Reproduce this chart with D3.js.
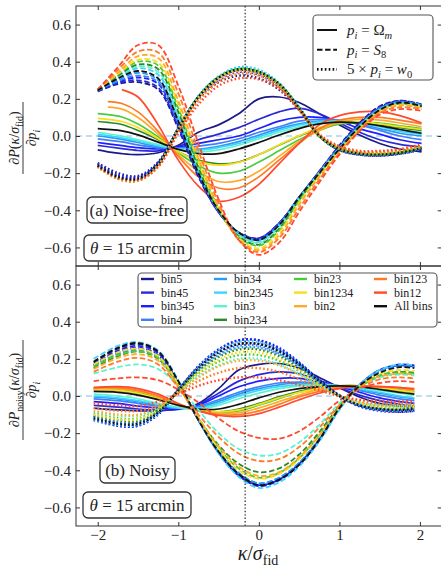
<!DOCTYPE html>
<html><head><meta charset="utf-8">
<script src="https://cdn.jsdelivr.net/npm/d3@7"></script>
<style>
body{margin:0;background:#fff}
svg{display:block}
text{font-family:"Liberation Serif","DejaVu Serif",serif;fill:#222}
</style>
</head><body>
<svg id="c" width="441" height="568"></svg>
<script>
// ---------------- data ----------------
const bins = ["bin5","bin45","bin345","bin4","bin34","bin2345","bin3","bin234","bin23","bin1234","bin2","bin123","bin12","All bins"];
const binColors = ["#1a1a8a","#2b2bd6","#1e1eff","#3f7fff","#2a9bf0","#3fd4ff","#5cf2cf","#2a8a2a","#4ccc3c","#f8de20","#ffaa2a","#ff7a26","#ff4a2e","#111111"];

const kTopSolid = [-2.0,-1.875,-1.7,-1.5,-1.25,-1.0,-0.75,-0.5,-0.25,0,0.25,0.5,0.75,1.0,1.25,1.5,1.75,2.02];
const kTop = [-2.0,-1.75,-1.5,-1.25,-1.0,-0.75,-0.5,-0.25,0,0.25,0.5,0.75,1.0,1.25,1.5,1.75,2.02];
const kBot = [-2.05,-1.75,-1.5,-1.25,-1.0,-0.75,-0.5,-0.25,0,0.25,0.5,0.75,1.0,1.25,1.5,1.75,1.93];

// (a) noise-free, p = Omega_m (solid)
const topOm = [
 [-0.075,-0.085,-0.095,-0.10,-0.09,-0.05,0.02,0.06,0.12,0.20,0.21,0.18,0.12,0.06,0.005,-0.04,-0.07,-0.085],
 [-0.05,-0.058,-0.068,-0.078,-0.08,-0.055,-0.02,0.01,0.045,0.09,0.13,0.15,0.12,0.07,0.02,-0.02,-0.045,-0.06],
 [-0.035,-0.042,-0.052,-0.063,-0.07,-0.06,-0.04,-0.02,0.0,0.04,0.08,0.10,0.10,0.08,0.04,0.01,-0.02,-0.04],
 [-0.015,-0.022,-0.032,-0.048,-0.063,-0.065,-0.055,-0.04,-0.015,0.02,0.05,0.08,0.09,0.085,0.06,0.03,0.0,-0.02],
 [0.0,-0.006,-0.018,-0.035,-0.058,-0.07,-0.07,-0.055,-0.03,0.005,0.04,0.065,0.08,0.08,0.065,0.04,0.015,0.0],
 [0.008,0.002,-0.01,-0.027,-0.052,-0.07,-0.075,-0.062,-0.04,-0.005,0.03,0.06,0.075,0.08,0.07,0.05,0.025,0.01],
 [0.018,0.012,0.0,-0.02,-0.046,-0.07,-0.085,-0.075,-0.05,-0.015,0.02,0.05,0.07,0.08,0.075,0.055,0.035,0.02],
 [0.078,0.073,0.062,0.03,-0.02,-0.085,-0.13,-0.15,-0.14,-0.10,-0.05,0.0,0.04,0.065,0.07,0.06,0.045,0.03],
 [0.12,0.115,0.102,0.065,-0.005,-0.09,-0.16,-0.20,-0.19,-0.14,-0.08,-0.02,0.03,0.065,0.075,0.07,0.055,0.04],
 [0.095,0.09,0.078,0.045,-0.015,-0.085,-0.135,-0.157,-0.142,-0.10,-0.048,0.002,0.045,0.07,0.075,0.065,0.05,0.035],
 [null,0.155,0.145,0.10,0.01,-0.10,-0.19,-0.245,-0.24,-0.19,-0.11,-0.03,0.03,0.075,0.09,0.085,0.07,0.05],
 [null,0.185,0.175,0.13,0.025,-0.11,-0.22,-0.28,-0.28,-0.22,-0.13,-0.04,0.04,0.085,0.10,0.10,0.085,0.065],
 [null,null,0.25,0.21,0.06,-0.13,-0.27,-0.35,-0.33,-0.26,-0.15,-0.04,0.06,0.11,0.13,0.13,0.11,0.07],
 [0.04,0.036,0.028,0.006,-0.033,-0.072,-0.095,-0.095,-0.07,-0.035,0.005,0.04,0.065,0.075,0.07,0.055,0.035,0.015]
];
// (a) noise-free, p = S8 (dashed)
const topS8 = [
 [0.24,0.28,0.29,0.25,0.04,-0.22,-0.41,-0.52,-0.55,-0.47,-0.33,-0.19,-0.05,0.07,0.16,0.19,0.17],
 [0.24,0.285,0.30,0.26,0.05,-0.21,-0.41,-0.52,-0.55,-0.47,-0.33,-0.19,-0.055,0.065,0.155,0.19,0.17],
 [0.245,0.29,0.315,0.28,0.06,-0.21,-0.41,-0.52,-0.555,-0.47,-0.33,-0.195,-0.06,0.06,0.15,0.185,0.165],
 [0.245,0.295,0.325,0.29,0.07,-0.20,-0.405,-0.52,-0.56,-0.475,-0.33,-0.195,-0.06,0.06,0.15,0.185,0.165],
 [0.245,0.30,0.34,0.30,0.08,-0.20,-0.40,-0.52,-0.56,-0.48,-0.33,-0.20,-0.065,0.055,0.145,0.18,0.165],
 [0.245,0.315,0.365,0.33,0.10,-0.19,-0.40,-0.53,-0.57,-0.48,-0.335,-0.20,-0.065,0.055,0.145,0.18,0.165],
 [0.245,0.32,0.375,0.345,0.11,-0.18,-0.40,-0.53,-0.575,-0.49,-0.34,-0.20,-0.07,0.05,0.14,0.175,0.16],
 [0.25,0.325,0.385,0.36,0.13,-0.17,-0.40,-0.54,-0.585,-0.50,-0.345,-0.205,-0.07,0.05,0.14,0.175,0.16],
 [0.25,0.33,0.40,0.38,0.15,-0.15,-0.39,-0.545,-0.59,-0.51,-0.35,-0.21,-0.075,0.045,0.135,0.17,0.155],
 [0.25,0.335,0.41,0.395,0.17,-0.14,-0.39,-0.55,-0.605,-0.52,-0.36,-0.215,-0.08,0.04,0.135,0.17,0.155],
 [0.25,0.34,0.43,0.42,0.19,-0.12,-0.38,-0.555,-0.615,-0.535,-0.37,-0.22,-0.085,0.035,0.13,0.165,0.15],
 [0.25,0.355,0.455,0.45,0.23,-0.08,-0.36,-0.56,-0.625,-0.55,-0.39,-0.235,-0.09,0.03,0.125,0.155,0.145],
 [0.25,0.37,0.49,0.49,0.27,-0.04,-0.34,-0.56,-0.64,-0.575,-0.41,-0.25,-0.10,0.025,0.115,0.145,0.135],
 [0.245,0.31,0.35,0.31,0.08,-0.20,-0.40,-0.52,-0.56,-0.48,-0.33,-0.20,-0.07,0.05,0.14,0.18,0.16]
];
// (a) noise-free, 5 x p = w0 (dotted)
const topW0 = [
 [-0.145,-0.20,-0.215,-0.14,0.04,0.20,0.29,0.325,0.31,0.25,0.14,0.0,-0.075,-0.10,-0.105,-0.095,-0.075],
 [-0.15,-0.21,-0.22,-0.145,0.04,0.205,0.30,0.345,0.33,0.265,0.145,0.0,-0.075,-0.10,-0.105,-0.095,-0.07],
 [-0.155,-0.215,-0.225,-0.15,0.04,0.21,0.31,0.355,0.34,0.275,0.15,0.0,-0.075,-0.10,-0.105,-0.095,-0.07],
 [-0.16,-0.22,-0.23,-0.15,0.04,0.21,0.315,0.36,0.345,0.28,0.15,0.0,-0.07,-0.095,-0.10,-0.09,-0.07],
 [-0.16,-0.225,-0.235,-0.155,0.04,0.215,0.32,0.37,0.355,0.285,0.155,0.0,-0.07,-0.095,-0.10,-0.09,-0.065],
 [-0.165,-0.225,-0.235,-0.155,0.04,0.215,0.32,0.37,0.355,0.285,0.155,0.005,-0.07,-0.095,-0.10,-0.09,-0.065],
 [-0.165,-0.23,-0.24,-0.16,0.035,0.21,0.32,0.365,0.35,0.28,0.15,0.0,-0.07,-0.095,-0.10,-0.09,-0.065],
 [-0.165,-0.23,-0.24,-0.16,0.035,0.21,0.315,0.36,0.345,0.28,0.15,0.0,-0.07,-0.095,-0.10,-0.09,-0.065],
 [-0.165,-0.23,-0.24,-0.16,0.035,0.21,0.315,0.36,0.345,0.275,0.15,0.0,-0.07,-0.09,-0.095,-0.085,-0.06],
 [-0.165,-0.23,-0.24,-0.16,0.035,0.205,0.31,0.355,0.34,0.275,0.145,0.0,-0.065,-0.09,-0.095,-0.085,-0.06],
 [-0.165,-0.23,-0.24,-0.165,0.03,0.20,0.305,0.35,0.335,0.27,0.145,0.0,-0.065,-0.09,-0.09,-0.08,-0.055],
 [-0.165,-0.23,-0.24,-0.165,0.025,0.19,0.29,0.335,0.325,0.265,0.145,0.005,-0.06,-0.085,-0.085,-0.075,-0.05],
 [-0.16,-0.225,-0.235,-0.165,0.015,0.17,0.27,0.31,0.305,0.255,0.14,0.01,-0.055,-0.08,-0.08,-0.07,-0.045],
 [-0.16,-0.22,-0.23,-0.15,0.04,0.21,0.315,0.36,0.345,0.28,0.15,0.0,-0.07,-0.095,-0.10,-0.09,-0.065]
];
// (b) noisy, p = Omega_m (solid)
const botOm = [
 [-0.065,-0.075,-0.08,-0.08,-0.07,-0.04,0.04,0.14,0.17,0.175,0.15,0.10,0.045,-0.005,-0.04,-0.055,-0.06],
 [-0.05,-0.06,-0.07,-0.075,-0.072,-0.045,0.015,0.08,0.115,0.13,0.12,0.085,0.045,0.005,-0.025,-0.045,-0.055],
 [-0.03,-0.04,-0.055,-0.065,-0.07,-0.05,0.0,0.05,0.08,0.095,0.095,0.075,0.05,0.02,-0.01,-0.03,-0.04],
 [-0.015,-0.025,-0.04,-0.055,-0.065,-0.055,-0.02,0.02,0.05,0.07,0.075,0.07,0.055,0.03,0.005,-0.015,-0.025],
 [-0.005,-0.015,-0.03,-0.05,-0.065,-0.06,-0.03,0.01,0.04,0.06,0.07,0.065,0.055,0.035,0.015,-0.005,-0.015],
 [0.0,-0.01,-0.025,-0.045,-0.065,-0.065,-0.04,0.0,0.03,0.05,0.06,0.06,0.055,0.04,0.02,0.0,-0.01],
 [0.01,0.0,-0.015,-0.04,-0.06,-0.07,-0.05,-0.015,0.015,0.04,0.055,0.06,0.055,0.045,0.03,0.015,0.005],
 [0.035,0.03,0.015,-0.015,-0.05,-0.075,-0.085,-0.07,-0.04,-0.005,0.025,0.045,0.055,0.055,0.045,0.03,0.02],
 [0.04,0.035,0.02,-0.01,-0.05,-0.075,-0.09,-0.08,-0.05,-0.015,0.02,0.04,0.055,0.055,0.045,0.035,0.025],
 [0.035,0.03,0.015,-0.015,-0.05,-0.075,-0.085,-0.075,-0.045,-0.01,0.02,0.04,0.055,0.055,0.045,0.03,0.02],
 [0.04,0.04,0.025,-0.005,-0.05,-0.08,-0.095,-0.09,-0.065,-0.03,0.005,0.035,0.05,0.055,0.05,0.04,0.03],
 [0.045,0.045,0.03,0.0,-0.045,-0.08,-0.10,-0.10,-0.08,-0.045,-0.005,0.025,0.045,0.055,0.05,0.045,0.035],
 [0.045,0.05,0.04,0.01,-0.04,-0.08,-0.105,-0.11,-0.095,-0.06,-0.02,0.015,0.04,0.05,0.05,0.045,0.04],
 [0.025,0.02,0.005,-0.02,-0.05,-0.07,-0.07,-0.045,-0.01,0.02,0.04,0.05,0.055,0.05,0.035,0.02,0.01]
];
// (b) noisy, p = S8 (dashed)
const botS8 = [
 [0.18,0.255,0.28,0.235,0.075,-0.13,-0.30,-0.42,-0.48,-0.45,-0.37,-0.235,-0.065,0.06,0.135,0.165,0.16],
 [0.17,0.245,0.27,0.23,0.07,-0.13,-0.305,-0.43,-0.485,-0.455,-0.37,-0.24,-0.07,0.06,0.14,0.17,0.165],
 [0.165,0.235,0.26,0.22,0.065,-0.13,-0.30,-0.425,-0.48,-0.45,-0.365,-0.235,-0.065,0.06,0.14,0.165,0.16],
 [0.16,0.225,0.25,0.21,0.06,-0.13,-0.295,-0.415,-0.47,-0.44,-0.36,-0.23,-0.065,0.055,0.135,0.16,0.155],
 [0.165,0.23,0.255,0.215,0.065,-0.125,-0.295,-0.415,-0.47,-0.44,-0.36,-0.23,-0.065,0.055,0.135,0.16,0.155],
 [0.20,0.27,0.29,0.245,0.085,-0.13,-0.31,-0.435,-0.495,-0.465,-0.38,-0.245,-0.075,0.06,0.14,0.17,0.165],
 [0.12,0.155,0.17,0.145,0.055,-0.075,-0.20,-0.285,-0.32,-0.31,-0.25,-0.155,-0.04,0.05,0.10,0.115,0.11],
 [0.15,0.215,0.24,0.20,0.055,-0.12,-0.265,-0.365,-0.41,-0.39,-0.315,-0.195,-0.055,0.05,0.11,0.13,0.125],
 [0.16,0.22,0.24,0.205,0.06,-0.12,-0.28,-0.39,-0.44,-0.415,-0.335,-0.21,-0.06,0.05,0.11,0.125,0.12],
 [0.17,0.235,0.255,0.215,0.065,-0.12,-0.285,-0.40,-0.445,-0.42,-0.34,-0.215,-0.065,0.055,0.12,0.14,0.135],
 [0.145,0.205,0.225,0.19,0.05,-0.12,-0.27,-0.38,-0.43,-0.41,-0.33,-0.21,-0.06,0.05,0.105,0.12,0.115],
 [0.13,0.185,0.205,0.17,0.045,-0.10,-0.22,-0.31,-0.35,-0.34,-0.275,-0.17,-0.05,0.04,0.09,0.10,0.095],
 [0.08,0.095,0.10,0.085,0.035,-0.035,-0.12,-0.19,-0.225,-0.23,-0.19,-0.115,-0.025,0.04,0.07,0.08,0.075],
 [0.185,0.26,0.285,0.24,0.08,-0.13,-0.30,-0.42,-0.48,-0.45,-0.37,-0.235,-0.065,0.055,0.125,0.155,0.15]
];
// (b) noisy, 5 x p = w0 (dotted)
const botW0 = [
 [-0.11,-0.145,-0.15,-0.09,0.035,0.155,0.24,0.28,0.28,0.245,0.175,0.085,0.005,-0.05,-0.075,-0.085,-0.08],
 [-0.13,-0.16,-0.16,-0.095,0.03,0.16,0.25,0.30,0.30,0.255,0.18,0.085,0.0,-0.055,-0.075,-0.08,-0.075],
 [-0.125,-0.16,-0.16,-0.10,0.035,0.16,0.25,0.30,0.30,0.26,0.18,0.085,0.0,-0.055,-0.08,-0.085,-0.08],
 [-0.115,-0.145,-0.145,-0.085,0.03,0.145,0.225,0.27,0.27,0.23,0.165,0.075,0.0,-0.05,-0.07,-0.075,-0.07],
 [-0.11,-0.14,-0.14,-0.085,0.03,0.14,0.22,0.26,0.26,0.225,0.16,0.075,0.0,-0.045,-0.065,-0.07,-0.065],
 [-0.125,-0.155,-0.155,-0.095,0.03,0.155,0.245,0.29,0.29,0.25,0.175,0.08,0.0,-0.05,-0.075,-0.08,-0.075],
 [-0.085,-0.105,-0.105,-0.065,0.02,0.105,0.165,0.20,0.20,0.17,0.12,0.055,0.0,-0.035,-0.05,-0.055,-0.05],
 [-0.105,-0.13,-0.135,-0.08,0.025,0.135,0.21,0.25,0.25,0.215,0.15,0.07,0.0,-0.045,-0.065,-0.07,-0.065],
 [-0.095,-0.12,-0.12,-0.07,0.025,0.12,0.185,0.22,0.22,0.19,0.135,0.065,0.0,-0.04,-0.055,-0.06,-0.055],
 [-0.10,-0.125,-0.125,-0.075,0.025,0.125,0.195,0.235,0.235,0.20,0.14,0.065,0.0,-0.04,-0.06,-0.065,-0.06],
 [-0.08,-0.10,-0.10,-0.06,0.02,0.10,0.16,0.19,0.19,0.165,0.115,0.055,0.0,-0.035,-0.05,-0.05,-0.05],
 [-0.065,-0.08,-0.08,-0.05,0.015,0.08,0.125,0.15,0.15,0.13,0.09,0.045,0.0,-0.025,-0.04,-0.04,-0.04],
 [-0.04,-0.05,-0.055,-0.03,0.01,0.055,0.085,0.10,0.10,0.085,0.06,0.03,0.0,-0.02,-0.025,-0.03,-0.025],
 [-0.12,-0.15,-0.15,-0.09,0.03,0.15,0.235,0.28,0.28,0.24,0.17,0.08,0.0,-0.05,-0.07,-0.075,-0.07]
];

const yTickValues = [-0.6,-0.4,-0.2,0.0,0.2,0.4,0.6];
const xTickValues = [-2,-1,0,1,2];
const kappaFid = -0.17;

// ---------------- drawing ----------------
const svg = d3.select("#c");
const x = d3.scaleLinear().domain([-2.27, 2.27]).range([76, 441.7]);
const yTop = d3.scaleLinear().domain([-0.7, 0.7]).range([266, 6]);
const yBot = d3.scaleLinear().domain([-0.7, 0.7]).range([526, 266]);

const styles = {
  solid:  {w:1.7, dash:null},
  dashed: {w:1.8, dash:"5.5,2.6"},
  dotted: {w:2.4, dash:"1.6,2.3"}
};

function addText(sel, parts, size){
  parts.forEach(p=>{
    const t = sel.append("tspan").text(p.t);
    if(p.i) t.attr("font-style","italic");
    if(p.sub){ t.attr("font-size", size*0.7).attr("dy", size*0.25); }
    if(p.back){ t.attr("dy", -size*0.25); }
  });
}

function panel(y, id, sets){
  const g = svg.append("g");
  svg.append("clipPath").attr("id",id).append("rect")
    .attr("x",x.range()[0]).attr("y",y.range()[1])
    .attr("width",x.range()[1]-x.range()[0]).attr("height",y.range()[0]-y.range()[1]);
  const pg = g.append("g").attr("clip-path",`url(#${id})`);
  pg.append("line").attr("x1",x.range()[0]).attr("x2",x.range()[1])
    .attr("y1",y(0)).attr("y2",y(0))
    .attr("stroke","#a9d5ea").attr("stroke-width",1.4).attr("stroke-dasharray","6,4");
  const line = d3.line().defined(d=>d[1]!=null).x(d=>x(d[0])).y(d=>y(d[1]))
    .curve(d3.curveCatmullRom.alpha(0.5));
  sets.forEach(s=>{
    const st = styles[s.style];
    s.vals.forEach((vals,bi)=>{
      const pts = s.k.map((kv,i)=>[kv, vals[i]]);
      pg.append("path").attr("d",line(pts)).attr("fill","none")
        .attr("stroke",binColors[bi]).attr("stroke-width",st.w)
        .attr("stroke-dasharray",st.dash).attr("stroke-linecap","butt");
    });
  });
  pg.append("line").attr("x1",x(kappaFid)).attr("x2",x(kappaFid))
    .attr("y1",y.range()[1]).attr("y2",y.range()[0])
    .attr("stroke","#222").attr("stroke-width",1.2).attr("stroke-dasharray","1.4,2");
  const fmt = d3.format(".1f");
  const la = g.append("g").attr("transform",`translate(${x.range()[0]},0)`)
    .call(d3.axisLeft(y).tickValues(yTickValues).tickSize(-4).tickPadding(5).tickFormat(fmt));
  la.select(".domain").remove();
  la.selectAll("text").attr("font-size",15).style("font-family","'Liberation Serif', serif").attr("fill","#222");
  const ra = g.append("g").attr("transform",`translate(${x.range()[1]},0)`)
    .call(d3.axisRight(y).tickValues(yTickValues).tickSize(-4).tickFormat(""));
  ra.select(".domain").remove();
  const ta = g.append("g").attr("transform",`translate(0,${y.range()[1]})`)
    .call(d3.axisTop(x).tickValues(xTickValues).tickSize(-4).tickFormat(""));
  ta.select(".domain").remove();
  const ba = g.append("g").attr("transform",`translate(0,${y.range()[0]})`)
    .call(d3.axisBottom(x).tickValues(xTickValues).tickSize(-4).tickPadding(3)
      .tickFormat(id==="clipB" ? d3.format("d") : ""));
  ba.select(".domain").remove();
  ba.selectAll("text").attr("font-size",15).style("font-family","'Liberation Serif', serif").attr("fill","#222");
  g.selectAll(".tick line").attr("stroke","#333");
  g.append("rect").attr("x",x.range()[0]).attr("y",y.range()[1])
    .attr("width",x.range()[1]-x.range()[0]).attr("height",y.range()[0]-y.range()[1])
    .attr("fill","none").attr("stroke","#333").attr("stroke-width",1);
  return g;
}

panel(yTop, "clipA", [
  {k:kTopSolid, vals:topOm, style:"solid"},
  {k:kTop, vals:topS8, style:"dashed"},
  {k:kTop, vals:topW0, style:"dotted"}
]);
panel(yBot, "clipB", [
  {k:kBot, vals:botOm, style:"solid"},
  {k:kBot, vals:botS8, style:"dashed"},
  {k:kBot, vals:botW0, style:"dotted"}
]);

function textBox(x0,y0,w,h,parts,size){
  svg.append("rect").attr("x",x0).attr("y",y0).attr("width",w).attr("height",h)
    .attr("rx",5).attr("fill","#fff").attr("stroke","#333").attr("stroke-width",1.3);
  const t = svg.append("text").attr("x",x0+w/2).attr("y",y0+h/2).attr("dy","0.35em")
    .attr("text-anchor","middle").attr("font-size",size);
  addText(t, parts, size);
}
textBox(87,197,100,26,[{t:"(a) Noise-free"}],17);
textBox(84,235,107,26,[{t:"θ",i:1},{t:" = 15 arcmin"}],17);
textBox(100,457,75,26,[{t:"(b) Noisy"}],17);
textBox(83,492,108,26,[{t:"θ",i:1},{t:" = 15 arcmin"}],17);

const lg = svg.append("g");
lg.append("rect").attr("x",313).attr("y",15).attr("width",120).attr("height",65).attr("rx",4)
  .attr("fill","#fff").attr("fill-opacity",0.85).attr("stroke","#555").attr("stroke-width",1.1);
const styleLabels = [
  {style:"solid", parts:[{t:"p",i:1},{t:"i",i:1,sub:1},{t:" = Ω",back:1},{t:"m",i:1,sub:1}]},
  {style:"dashed", parts:[{t:"p",i:1},{t:"i",i:1,sub:1},{t:" = ",back:1},{t:"S",i:1},{t:"8",sub:1}]},
  {style:"dotted", parts:[{t:"5 × "},{t:"p",i:1},{t:"i",i:1,sub:1},{t:" = ",back:1},{t:"w",i:1},{t:"0",sub:1}]}
];
styleLabels.forEach((s,i)=>{
  const yy = 30 + i*19.7;
  lg.append("line").attr("x1",317).attr("x2",337).attr("y1",yy).attr("y2",yy)
    .attr("stroke","#111").attr("stroke-width",styles[s.style].w+0.3)
    .attr("stroke-dasharray",styles[s.style].dash);
  const t = lg.append("text").attr("x",347).attr("y",yy).attr("dy","0.33em").attr("font-size",15);
  addText(t, s.parts, 15);
});

const bl = svg.append("g");
bl.append("rect").attr("x",138).attr("y",273).attr("width",299).attr("height",54).attr("rx",4)
  .attr("fill","#fff").attr("fill-opacity",0.82).attr("stroke","#555").attr("stroke-width",1.1);
const colX = [141,214,294,374];
const colCounts = [4,4,3,3];
let idx = 0;
colCounts.forEach((n,c)=>{
  for(let r=0;r<n;r++){
    const yy = 279 + r*13.6;
    bl.append("line").attr("x1",colX[c]).attr("x2",colX[c]+13).attr("y1",yy).attr("y2",yy)
      .attr("stroke",binColors[idx]).attr("stroke-width",2.4);
    bl.append("text").attr("x",colX[c]+20).attr("y",yy).attr("dy","0.35em")
      .attr("font-size",12).text(bins[idx]);
    idx++;
  }
});

function yLabel(cx, cy, numParts, halfW){
  const g = svg.append("g").attr("transform",`translate(${cx},${cy}) rotate(-90)`);
  const n = g.append("text").attr("x",0).attr("y",-4).attr("text-anchor","middle").attr("font-size",14);
  addText(n, numParts, 14);
  g.append("line").attr("x1",-halfW).attr("x2",halfW).attr("y1",0).attr("y2",0)
    .attr("stroke","#222").attr("stroke-width",0.9);
  const d = g.append("text").attr("x",0).attr("y",13).attr("text-anchor","middle").attr("font-size",14);
  addText(d, [{t:"∂"},{t:"p",i:1},{t:"i",i:1,sub:1}], 14);
}
yLabel(23,138,[{t:"∂"},{t:"P",i:1},{t:"("},{t:"κ",i:1},{t:"/"},{t:"σ",i:1},{t:"fid",sub:1},{t:")",back:1}],36);
yLabel(23,390,[{t:"∂"},{t:"P",i:1},{t:"noisy",sub:1},{t:"(",back:1},{t:"κ",i:1},{t:"/"},{t:"σ",i:1},{t:"fid",sub:1},{t:")",back:1}],50);

const xl = svg.append("text").attr("x",258).attr("y",560).attr("text-anchor","middle").attr("font-size",20);
addText(xl,[{t:"κ",i:1},{t:"/"},{t:"σ",i:1},{t:"fid",sub:1}],20);
</script>
</body></html>
